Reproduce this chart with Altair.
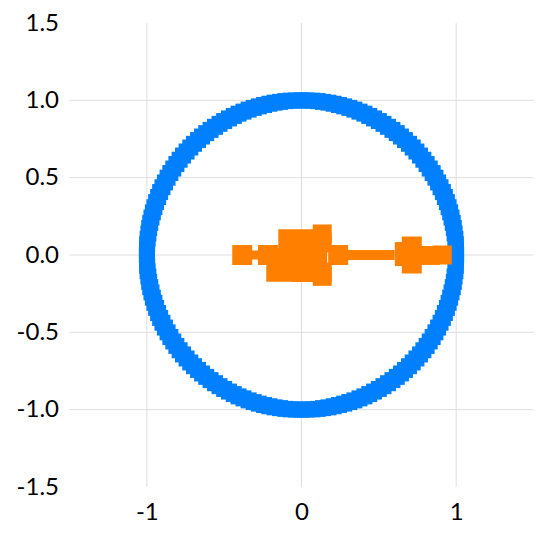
import altair as alt
import pandas as pd

# Blue ring points (unit circle)
ring_x = [
    1.000, 0.999, 0.998, 0.995, 0.990, 0.985, 0.978, 0.970, 0.961, 0.951, 0.940, 0.927, 0.914, 0.899, 0.883,
    0.866, 0.848, 0.829, 0.809, 0.788, 0.766, 0.743, 0.719, 0.695, 0.669, 0.643, 0.616, 0.588, 0.559, 0.530,
    0.500, 0.469, 0.438, 0.407, 0.375, 0.342, 0.309, 0.276, 0.242, 0.208, 0.174, 0.139, 0.105, 0.070, 0.035,
    0.000, -0.035, -0.070, -0.105, -0.139, -0.174, -0.208, -0.242, -0.276, -0.309, -0.342, -0.375, -0.407, -0.438, -0.469,
    -0.500, -0.530, -0.559, -0.588, -0.616, -0.643, -0.669, -0.695, -0.719, -0.743, -0.766, -0.788, -0.809, -0.829, -0.848,
    -0.866, -0.883, -0.899, -0.914, -0.927, -0.940, -0.951, -0.961, -0.970, -0.978, -0.985, -0.990, -0.995, -0.998, -0.999,
    -1.000, -0.999, -0.998, -0.995, -0.990, -0.985, -0.978, -0.970, -0.961, -0.951, -0.940, -0.927, -0.914, -0.899, -0.883,
    -0.866, -0.848, -0.829, -0.809, -0.788, -0.766, -0.743, -0.719, -0.695, -0.669, -0.643, -0.616, -0.588, -0.559, -0.530,
    -0.500, -0.469, -0.438, -0.407, -0.375, -0.342, -0.309, -0.276, -0.242, -0.208, -0.174, -0.139, -0.105, -0.070, -0.035,
    0.000, 0.035, 0.070, 0.105, 0.139, 0.174, 0.208, 0.242, 0.276, 0.309, 0.342, 0.375, 0.407, 0.438, 0.469,
    0.500, 0.530, 0.559, 0.588, 0.616, 0.643, 0.669, 0.695, 0.719, 0.743, 0.766, 0.788, 0.809, 0.829, 0.848,
    0.866, 0.883, 0.899, 0.914, 0.927, 0.940, 0.951, 0.961, 0.970, 0.978, 0.985, 0.990, 0.995, 0.998, 0.999,
]
ring_y = [
    0.000, 0.035, 0.070, 0.105, 0.139, 0.174, 0.208, 0.242, 0.276, 0.309, 0.342, 0.375, 0.407, 0.438, 0.469,
    0.500, 0.530, 0.559, 0.588, 0.616, 0.643, 0.669, 0.695, 0.719, 0.743, 0.766, 0.788, 0.809, 0.829, 0.848,
    0.866, 0.883, 0.899, 0.914, 0.927, 0.940, 0.951, 0.961, 0.970, 0.978, 0.985, 0.990, 0.995, 0.998, 0.999,
    1.000, 0.999, 0.998, 0.995, 0.990, 0.985, 0.978, 0.970, 0.961, 0.951, 0.940, 0.927, 0.914, 0.899, 0.883,
    0.866, 0.848, 0.829, 0.809, 0.788, 0.766, 0.743, 0.719, 0.695, 0.669, 0.643, 0.616, 0.588, 0.559, 0.530,
    0.500, 0.469, 0.438, 0.407, 0.375, 0.342, 0.309, 0.276, 0.242, 0.208, 0.174, 0.139, 0.105, 0.070, 0.035,
    0.000, -0.035, -0.070, -0.105, -0.139, -0.174, -0.208, -0.242, -0.276, -0.309, -0.342, -0.375, -0.407, -0.438, -0.469,
    -0.500, -0.530, -0.559, -0.588, -0.616, -0.643, -0.669, -0.695, -0.719, -0.743, -0.766, -0.788, -0.809, -0.829, -0.848,
    -0.866, -0.883, -0.899, -0.914, -0.927, -0.940, -0.951, -0.961, -0.970, -0.978, -0.985, -0.990, -0.995, -0.998, -0.999,
    -1.000, -0.999, -0.998, -0.995, -0.990, -0.985, -0.978, -0.970, -0.961, -0.951, -0.940, -0.927, -0.914, -0.899, -0.883,
    -0.866, -0.848, -0.829, -0.809, -0.788, -0.766, -0.743, -0.719, -0.695, -0.669, -0.643, -0.616, -0.588, -0.559, -0.530,
    -0.500, -0.469, -0.438, -0.407, -0.375, -0.342, -0.309, -0.276, -0.242, -0.208, -0.174, -0.139, -0.105, -0.070, -0.035,
]
ring_size = [256] * len(ring_x)

# Orange points (x, y, marker area)
orange_x = [-0.383, -0.300, -0.217, -0.118, -0.037, 0.000, 0.013, 0.134, 0.134, 0.101, 0.134, 0.134, 0.237,
            0.27, 0.30, 0.33, 0.36, 0.39, 0.42, 0.45, 0.48, 0.51, 0.54, 0.57,
            0.681, 0.713, 0.713, 0.832, 0.910]
orange_y = [0.000, 0.000, 0.000, -0.063, 0.053, 0.000, -0.097, 0.136, 0.078, -0.016, -0.110, -0.138, 0.000,
            0.0, 0.0, 0.0, 0.0, 0.0, 0.0, 0.0, 0.0, 0.0, 0.0, 0.0,
            0.006, 0.055, -0.055, -0.003, 0.000]
orange_size = [400, 81, 400, 1156, 1225, 1600, 576, 361, 361, 400, 361, 361, 400,
               100, 100, 100, 100, 100, 100, 100, 100, 100, 100, 100,
               576, 400, 400, 361, 361]

y_ticks = [-1.5, -1.0, -0.5, 0.0, 0.5, 1.0, 1.5]
x_ticks = [-1, 0, 1]
y_grid = [-1.0, -0.5, 0.0, 0.5, 1.0]
x_grid = [-1, 0, 1]

FONT = "Lato"
GRID = "#dedede"
HYPHEN = "replace(datum.label, '\u2212', '-')"

ring_df = pd.DataFrame({"x": ring_x, "y": ring_y, "s": ring_size})
orange_df = pd.DataFrame({"x": orange_x, "y": orange_y, "s": orange_size})
ygrid_df = pd.DataFrame({"y": y_grid})
xgrid_df = pd.DataFrame({"x": x_grid})

xscale = alt.Scale(domain=[-1.5, 1.5], nice=False, zero=False)
yscale = alt.Scale(domain=[-1.5, 1.5], nice=False, zero=False)

xaxis = alt.Axis(values=x_ticks, format="d", labelExpr=HYPHEN, grid=False, domain=False, ticks=False,
                 labelFont=FONT, labelFontSize=24, labelColor="#000000", labelPadding=13, title=None)
yaxis = alt.Axis(values=y_ticks, format=".1f", labelExpr=HYPHEN, grid=False, domain=False, ticks=False,
                 labelFont=FONT, labelFontSize=24, labelColor="#000000", labelPadding=11, title=None)

hgrid = alt.Chart(ygrid_df).mark_rule(color=GRID, strokeWidth=1).encode(
    y=alt.Y("y:Q", scale=yscale, axis=yaxis)
)
vgrid = alt.Chart(xgrid_df).mark_rule(color=GRID, strokeWidth=1).encode(
    x=alt.X("x:Q", scale=xscale, axis=xaxis)
)

ring = alt.Chart(ring_df).mark_square(color="#0080ff", opacity=1, filled=True).encode(
    x=alt.X("x:Q", scale=xscale, axis=xaxis),
    y=alt.Y("y:Q", scale=yscale, axis=yaxis),
    size=alt.Size("s:Q", scale=None, legend=None),
)
orange = alt.Chart(orange_df).mark_square(color="#ff8000", opacity=1, filled=True).encode(
    x=alt.X("x:Q", scale=xscale, axis=xaxis),
    y=alt.Y("y:Q", scale=yscale, axis=yaxis),
    size=alt.Size("s:Q", scale=None, legend=None),
)

chart = alt.layer(hgrid, vgrid, ring, orange).properties(
    width=464, height=464,
    autosize=alt.AutoSizeParams(type="none"),
    padding={"left": 61.5, "top": 15, "right": 8, "bottom": 40},
    background="white",
).configure_view(stroke=None, strokeWidth=0)

chart.save("out.html", embed_options={"renderer": "svg", "actions": False})
